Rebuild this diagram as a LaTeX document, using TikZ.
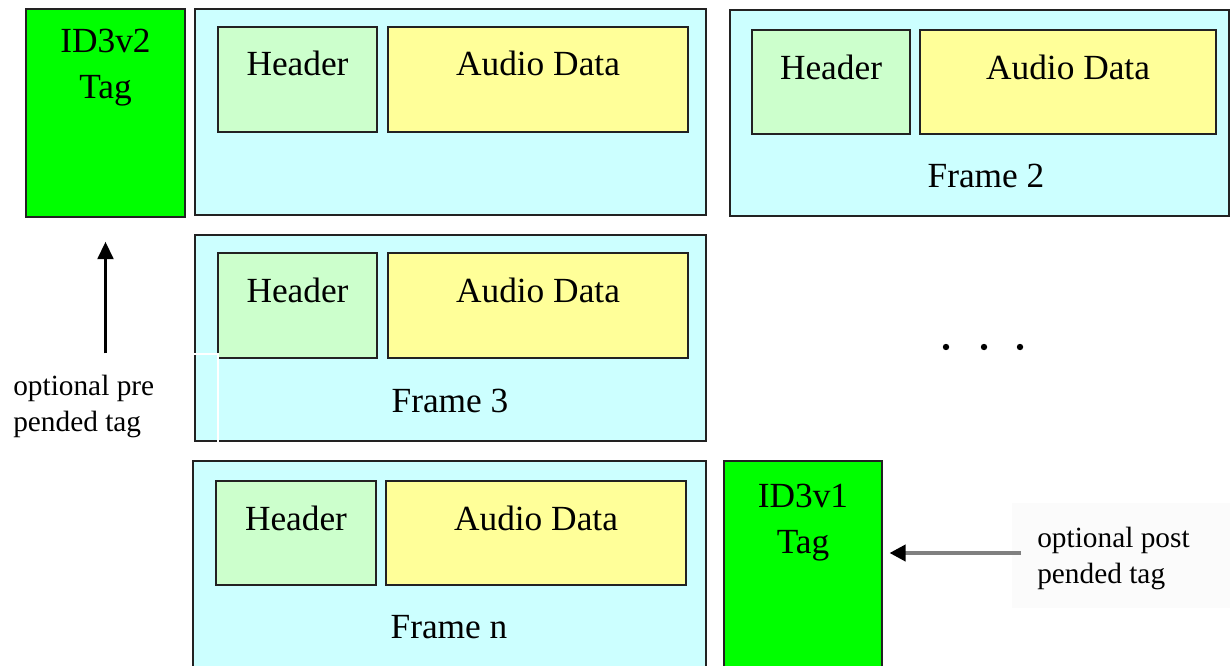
\documentclass[tikz,border=0pt]{standalone}
\usepackage{fontspec}
\setmainfont{Liberation Serif}
\usetikzlibrary{fit,arrows.meta}
\definecolor{tagGreen}{HTML}{00FF00}
\definecolor{hdrGreen}{HTML}{CCFFCC}
\definecolor{audYellow}{HTML}{FFFF99}
\definecolor{frmCyan}{HTML}{CCFFFF}
\definecolor{edgeCol}{HTML}{222222}
\begin{document}
\begin{tikzpicture}[x=0.75pt,y=-0.75pt,
  box/.style={draw=edgeCol,line width=1.3pt,inner sep=0pt},
  frame/.style={box,fill=frmCyan},
  hdr/.style={box,fill=hdrGreen},
  aud/.style={box,fill=audYellow},
  tagbox/.style={box,fill=tagGreen},
  txt/.style={font=\fontsize{26.5}{34.5}\selectfont,inner sep=0pt,anchor=base,align=center},
  note/.style={font=\fontsize{22}{27}\selectfont,inner sep=0pt,anchor=base west,align=left},
  arr/.style={-{Triangle[length=13pt,width=12pt]},line width=1.8pt}
]
\useasboundingbox (0,0) rectangle (1230,666);
% boxes
\node[tagbox,fit={(26,9)(185,217)}] (v2) {};
\node[frame,fit={(195,9)(706,215)}] (f1) {};
\node[hdr,fit={(218,27)(377,132)}] (h1) {};
\node[aud,fit={(388,27)(688,132)}] (a1) {};
\node[frame,fit={(730,10)(1229,216)}] (f2) {};
\node[hdr,fit={(752,30)(910,134)}] (h2) {};
\node[aud,fit={(920,30)(1216,134)}] (a2) {};
\node[frame,fit={(195,235)(706,441)}] (f3) {};
\node[hdr,fit={(218,253)(377,358)}] (h3) {};
\node[aud,fit={(388,253)(688,358)}] (a3) {};
\node[frame,fit={(193,461)(706,672)}] (fn) {};
\node[hdr,fit={(216,481)(376,585)}] (hn) {};
\node[aud,fit={(386,481)(686,585)}] (an) {};
\node[tagbox,fit={(724,461)(882,672)}] (v1) {};
% texts (base anchor = baseline of the last line)
\node[txt] (v2t) at (105.5,99) {ID3v2\\Tag};
\node[txt] (v1t) at (803,553) {ID3v1\\Tag};
\node[txt] (h1t) at (297.5,76) {Header};
\node[txt] (a1t) at (538,76) {Audio Data};
\node[txt] (h2t) at (831,80) {Header};
\node[txt] (a2t) at (1068,80) {Audio Data};
\node[txt] (f2t) at (986,188) {Frame 2};
\node[txt] (h3t) at (297.5,302) {Header};
\node[txt] (a3t) at (538,302) {Audio Data};
\node[txt] (f3t) at (450,412) {Frame 3};
\node[txt] (hnt) at (296,530) {Header};
\node[txt] (ant) at (536,530) {Audio Data};
\node[txt] (fnt) at (449,638) {Frame n};
% ellipsis dots
\fill (946,347) circle[radius=2.4pt];
\fill (984,347) circle[radius=2.4pt];
\fill (1020,347) circle[radius=2.4pt];
% pre label
\node[draw=white,line width=0.8pt,inner sep=0pt,fit={(-2,354)(218,458)}] (prebox) {};
\node[note] (pret) at (13,431) {optional pre\\pended tag};
\draw[arr,shorten >=18pt] (prebox.north -| v2.south) -- (v2.south);
% post label
\node[fill=black!1.5,inner sep=0pt,fit={(1012,503)(1232,608)}] (postbox) {};
\node[note] (postt) at (1037,583) {optional post\\pended tag};
\coordinate (postStart) at (1021,553);
\draw[-{Triangle[length=12pt,width=12pt,color=black]},line width=2.8pt,draw=black!50,shorten >=5pt] (postStart) -- (v1.east |- postStart);
\end{tikzpicture}
\end{document}
